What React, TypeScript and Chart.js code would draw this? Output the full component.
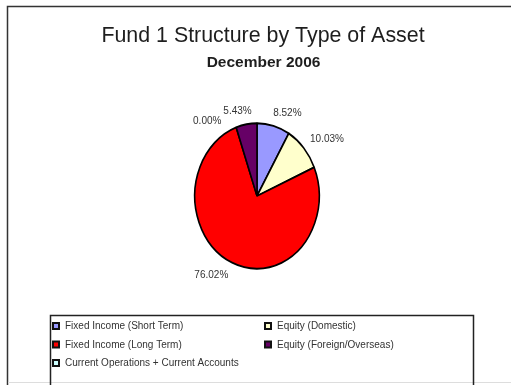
import { useEffect, useRef } from "react";
import { Chart, registerables } from "chart.js";

Chart.register(...registerables);

const TITLE = "Fund 1 Structure by Type of Asset";
const SUBTITLE = "December 2006";

// Slices run clockwise from 12 o'clock in this order.
const assetClasses = [
  "Fixed Income (Short Term)",
  "Equity (Domestic)",
  "Fixed Income (Long Term)",
  "Equity (Foreign/Overseas)",
  "Current Operations + Current Accounts",
];
const sharePercent = [8.52, 10.03, 76.02, 5.43, 0.0];
const sliceColors = ["#9999FF", "#FFFFCC", "#FF0000", "#660066", "#CCFFFF"];

const W = 511;
const H = 385;
const FONT = "'Liberation Sans', Arial, Helvetica, sans-serif";
// The pie is drawn as an upright ellipse: vertical stretch about its centre.
const STRETCH_Y = 1.17;

const fmtPct = (v: number) => v.toFixed(2) + "%";

const ellipsePlugin = {
  id: "ellipsePie",
  beforeDatasetsDraw(chart: any) {
    const arc = chart.getDatasetMeta(0).data[0];
    if (!arc) return;
    const { x, y } = arc;
    const ctx = chart.ctx;
    ctx.save();
    ctx.translate(x, y);
    ctx.scale(1, STRETCH_Y);
    ctx.translate(-x, -y);
  },
  afterDatasetsDraw(chart: any) {
    chart.ctx.restore();
  },
};

const labelPlugin = {
  id: "sliceLabels",
  afterDatasetsDraw(chart: any) {
    const ctx = chart.ctx;
    const arcs = chart.getDatasetMeta(0).data;
    const values = chart.data.datasets[0].data as number[];
    ctx.save();
    ctx.font = `10px ${FONT}`;
    ctx.fillStyle = "#333";
    ctx.textAlign = "center";
    ctx.textBaseline = "middle";
    const placed: { x0: number; x1: number; y0: number; y1: number }[] = [];
    const halfH = 5;
    arcs.forEach((arc: any, i: number) => {
      const text = fmtPct(values[i]);
      const halfW = ctx.measureText(text).width / 2 + 1;
      const r = arc.outerRadius + 7;
      let ang = (arc.startAngle + arc.endAngle) / 2;
      const place = (a: number) => {
        const c = Math.cos(a);
        const s = Math.sin(a);
        const px = arc.x + r * c;
        const py = arc.y + r * s * STRETCH_Y;
        const cx = px + halfW * Math.sign(c) * Math.min(1, Math.abs(c) * 3);
        const cy = py + halfH * s;
        return { cx, cy, box: { x0: cx - halfW, x1: cx + halfW, y0: cy - halfH, y1: cy + halfH } };
      };
      let p = place(ang);
      const hits = (b: any) =>
        placed.some((q) => b.x0 < q.x1 && b.x1 > q.x0 && b.y0 < q.y1 && b.y1 > q.y0);
      let guard = 0;
      while (hits(p.box) && guard < 90) {
        ang -= (2 * Math.PI) / 180;
        p = place(ang);
        guard++;
      }
      placed.push(p.box);
      ctx.fillText(text, p.cx, p.cy);
    });
    ctx.restore();
  },
};

const framePlugin = {
  id: "frameTitleLegend",
  afterDraw(chart: any) {
    const ctx = chart.ctx;
    const labels = chart.data.labels as string[];
    const colors = chart.data.datasets[0].backgroundColor as string[];
    ctx.save();

    // outer chart frame
    ctx.strokeStyle = "#333";
    ctx.lineWidth = 1.5;
    ctx.beginPath();
    ctx.moveTo(7.5, H + 2);
    ctx.lineTo(7.5, 6.5);
    ctx.lineTo(W + 2, 6.5);
    ctx.stroke();
    ctx.strokeStyle = "#ddd";
    ctx.lineWidth = 1;
    ctx.beginPath();
    ctx.moveTo(8, 382.5);
    ctx.lineTo(W, 382.5);
    ctx.stroke();

    // titles (main title set slightly condensed)
    ctx.fillStyle = "#1e1e1e";
    ctx.textAlign = "center";
    ctx.textBaseline = "alphabetic";
    ctx.save();
    ctx.translate(263, 42);
    ctx.scale(0.95, 1);
    ctx.font = `22.5px ${FONT}`;
    ctx.fillText(TITLE, 0, 0);
    ctx.restore();
    ctx.font = `bold 15.5px ${FONT}`;
    ctx.fillText(SUBTITLE, 263.5, 67);

    // legend box
    ctx.strokeStyle = "#222";
    ctx.lineWidth = 1.5;
    ctx.beginPath();
    ctx.moveTo(50.5, H + 2);
    ctx.lineTo(50.5, 315.5);
    ctx.lineTo(473.5, 315.5);
    ctx.lineTo(473.5, H + 2);
    ctx.stroke();

    const colX = [52, 264];
    const rowY0 = 326;
    const rowStep = 18.5;
    ctx.font = `10px ${FONT}`;
    ctx.textAlign = "left";
    ctx.textBaseline = "middle";
    labels.forEach((lab, i) => {
      const x = colX[i % 2];
      const y = rowY0 + Math.floor(i / 2) * rowStep;
      ctx.fillStyle = "#111";
      ctx.fillRect(x, y - 4, 8, 8);
      ctx.fillStyle = colors[i];
      ctx.fillRect(x + 2, y - 2, 4, 4);
      ctx.fillStyle = "#333";
      ctx.fillText(lab, x + 13, y + 0.5);
    });
    ctx.restore();
  },
};

export default function App() {
  const canvasRef = useRef<HTMLCanvasElement | null>(null);

  useEffect(() => {
    const canvas = canvasRef.current;
    if (!canvas) return;
    const chart = new Chart(canvas, {
      type: "pie",
      data: {
        labels: assetClasses,
        datasets: [
          {
            data: sharePercent,
            backgroundColor: sliceColors,
            borderColor: "#000",
            borderWidth: 1.6,
            clip: false as any,
          },
        ],
      },
      options: {
        responsive: false,
        animation: false,
        devicePixelRatio: 1,
        layout: { padding: { left: 194, right: 191, top: 133, bottom: 126 } },
        plugins: {
          legend: { display: false },
          title: { display: false },
          tooltip: { enabled: false },
        },
      },
      plugins: [ellipsePlugin, labelPlugin, framePlugin],
    });
    return () => chart.destroy();
  }, []);

  return (
    <div style={{ position: "fixed", left: 0, top: 0, width: W, height: H, background: "#fff" }}>
      <canvas ref={canvasRef} width={W} height={H} style={{ display: "block" }} />
    </div>
  );
}
